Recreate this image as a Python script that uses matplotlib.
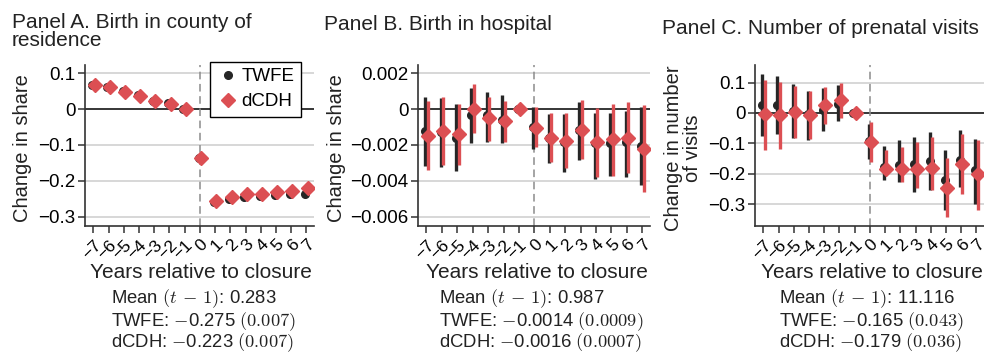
import matplotlib
matplotlib.use('Agg')
import matplotlib.pyplot as plt
import numpy as np

plt.rcParams['font.family'] = ['Liberation Sans', 'DejaVu Sans']
plt.rcParams['mathtext.fontset'] = 'cm'

W, H = 984, 353
RED = '#dc4f53'
BLACK = '#262626'

event_time = list(range(-7, 8))

# Panel A: birth in county of residence
a_twfe = [0.066, 0.062, 0.050, 0.038, 0.022, 0.016, 0.0, -0.137,
          -0.260, -0.250, -0.245, -0.243, -0.240, -0.237, -0.236]
a_twfe_lo = [0.062, 0.058, 0.046, 0.034, 0.018, 0.012, 0.0, -0.141,
             -0.264, -0.254, -0.249, -0.247, -0.244, -0.241, -0.240]
a_twfe_hi = [0.070, 0.066, 0.054, 0.042, 0.026, 0.020, 0.0, -0.133,
             -0.256, -0.246, -0.241, -0.239, -0.236, -0.233, -0.232]
a_dcdh = [0.066, 0.061, 0.049, 0.037, 0.022, 0.015, 0.0, -0.136,
          -0.255, -0.245, -0.236, -0.236, -0.232, -0.227, -0.221]
a_dcdh_lo = [0.062, 0.057, 0.045, 0.033, 0.018, 0.011, 0.0, -0.140,
             -0.259, -0.249, -0.240, -0.240, -0.236, -0.231, -0.225]
a_dcdh_hi = [0.070, 0.065, 0.053, 0.041, 0.026, 0.019, 0.0, -0.132,
             -0.251, -0.241, -0.232, -0.232, -0.228, -0.223, -0.217]

# Panel B: birth in hospital
b_twfe = [-0.00122, -0.00130, -0.00163, -0.00033, -0.00033, -0.00061, 0.0, -0.00102,
          -0.00163, -0.00181, -0.00117, -0.00191, -0.00187, -0.00185, -0.00204]
b_twfe_lo = [-0.00317, -0.00324, -0.00348, -0.00191, -0.00181, -0.00187, 0.0, -0.00222,
             -0.00302, -0.00352, -0.00283, -0.00389, -0.00372, -0.00381, -0.00422]
b_twfe_hi = [0.00068, 0.00060, 0.00026, 0.00118, 0.00098, 0.00078, 0.0, 0.00010,
             -0.00028, -0.00028, 0.00041, -0.00024, -0.00024, -0.00010, 0.00010]
b_dcdh = [-0.00148, -0.00122, -0.00139, 0.00000, -0.00052, -0.00067, 0.0, -0.00107,
          -0.00159, -0.00176, -0.00117, -0.00181, -0.00169, -0.00159, -0.00222]
b_dcdh_lo = [-0.00339, -0.00311, -0.00311, -0.00135, -0.00176, -0.00181, 0.0, -0.00209,
             -0.00293, -0.00330, -0.00280, -0.00376, -0.00372, -0.00357, -0.00465]
b_dcdh_hi = [0.00046, 0.00065, 0.00031, 0.00139, 0.00065, 0.00046, 0.0, 0.00010,
             -0.00024, -0.00020, 0.00050, 0.00004, 0.00031, 0.00037, 0.00022]

# Panel C: number of prenatal visits
c_twfe = [0.027, 0.027, 0.005, -0.002, 0.011, 0.031, 0.0, -0.092,
          -0.178, -0.170, -0.169, -0.158, -0.220, -0.156, -0.189]
c_twfe_lo = [-0.077, -0.070, -0.081, -0.090, -0.060, -0.027, 0.0, -0.151,
             -0.220, -0.227, -0.260, -0.255, -0.318, -0.242, -0.299]
c_twfe_hi = [0.127, 0.122, 0.097, 0.073, 0.082, 0.091, 0.0, -0.035,
             -0.107, -0.088, -0.079, -0.063, -0.123, -0.055, -0.085]
c_dcdh = [-0.004, -0.005, 0.003, -0.005, 0.025, 0.042, 0.0, -0.096,
          -0.184, -0.186, -0.184, -0.180, -0.246, -0.167, -0.202]
c_dcdh_lo = [-0.121, -0.118, -0.081, -0.085, -0.037, -0.015, 0.0, -0.162,
             -0.202, -0.227, -0.246, -0.255, -0.341, -0.266, -0.319]
c_dcdh_hi = [0.110, 0.102, 0.088, 0.073, 0.086, 0.099, 0.0, -0.030,
             -0.121, -0.112, -0.096, -0.079, -0.147, -0.068, -0.088]

titles = ['Panel A. Birth in county of\nresidence',
          'Panel B. Birth in hospital',
          'Panel C. Number of prenatal visits']
ylabels = ['Change in share', 'Change in share', 'Change in number\nof visits']
yticks = [[0.1, 0, -0.1, -0.2, -0.3],
          [0.002, 0, -0.002, -0.004, -0.006],
          [0.1, 0, -0.1, -0.2, -0.3]]
yticklabels = [['0.1', '0', '\u22120.1', '\u22120.2', '\u22120.3'],
               ['0.002', '0', '\u22120.002', '\u22120.004', '\u22120.006'],
               ['0.1', '0', '\u22120.1', '\u22120.2', '\u22120.3']]
ylims = [(-0.326, 0.123), (-0.00652, 0.00246), (-0.372, 0.158)]
stats = [['Mean $(t\\,-\\,1)$: 0.283', 'TWFE: $-$0.275 $(0.007)$', 'dCDH: $-$0.223 $(0.007)$'],
         ['Mean $(t\\,-\\,1)$: 0.987', 'TWFE: $-$0.0014 $(0.0009)$', 'dCDH: $-$0.0016 $(0.0007)$'],
         ['Mean $(t\\,-\\,1)$: 11.116', 'TWFE: $-$0.165 $(0.043)$', 'dCDH: $-$0.179 $(0.036)$']]

panels = [
    (a_twfe, a_twfe_lo, a_twfe_hi, a_dcdh, a_dcdh_lo, a_dcdh_hi),
    (b_twfe, b_twfe_lo, b_twfe_hi, b_dcdh, b_dcdh_lo, b_dcdh_hi),
    (c_twfe, c_twfe_lo, c_twfe_hi, c_dcdh, c_dcdh_lo, c_dcdh_hi),
]

# axes boxes in pixels: left, top, right, bottom
boxes = [(85, 65, 314, 226), (418, 65, 650, 226), (755, 65, 984, 226)]
title_pos = [(12, 31.5), (324, 25), (662, 28)]
ylabel_x = [23, 336, 683]
xlabel_x = [201, 537, 872]
stats_x = [111, 439, 779]
stats_y = [299, 322, 343]


def fx(x):
    return x / W


def fy(y):
    return 1 - y / H


fig = plt.figure(figsize=(W / 100, H / 100), dpi=100)

x = np.array(event_time)
for i, (tw, tw_lo, tw_hi, dc, dc_lo, dc_hi) in enumerate(panels):
    l, t, r, b = boxes[i]
    ax = fig.add_axes([fx(l), fy(b), (r - l) / W, (b - t) / H])

    ax.vlines(x - 0.08, tw_lo, tw_hi, color=BLACK, lw=2.4, zorder=3)
    ax.plot(x - 0.08, tw, 'o', color=BLACK, ms=5.5, zorder=4, label='TWFE')
    ax.vlines(x + 0.08, dc_lo, dc_hi, color=RED, lw=2.4, zorder=5)
    ax.plot(x + 0.08, dc, 'D', color=RED, ms=7, zorder=6, label='dCDH')

    ax.axhline(0, color='black', lw=1.1, zorder=2)
    ax.axvline(0, color='#8c8c8c', lw=1.1, ls=(0, (5, 3)), zorder=2)

    ax.set_xlim(-7.55, 7.5)
    ax.set_ylim(*ylims[i])
    ax.set_yticks(yticks[i])
    ax.set_yticklabels(yticklabels[i])
    ax.set_xticks(event_time)
    ax.set_xticklabels([str(v).replace('-', '\u2212') for v in event_time],
                       rotation=45, ha='right', va='top', rotation_mode='anchor')
    ax.tick_params(axis='both', labelsize=13.5, length=5, width=1.1, color='#333333', pad=2)
    ax.tick_params(axis='x', labelsize=12.5, pad=3)

    for yt in yticks[i]:
        if yt != 0:
            ax.axhline(yt, color='#d4d4d4', lw=1.3, zorder=1)

    for s in ['top', 'right']:
        ax.spines[s].set_visible(False)
    for s in ['left', 'bottom']:
        ax.spines[s].set_linewidth(1.2)
        ax.spines[s].set_color('#333333')

    if i == 0:
        ax.legend(loc='upper right', bbox_to_anchor=(0.943, 1.02), fontsize=13.5,
                  frameon=True, fancybox=False, edgecolor='black', framealpha=1,
                  handletextpad=0.1, handlelength=1.2, borderpad=0.35,
                  labelspacing=0.4, borderaxespad=0)

    tx, ty = title_pos[i]
    fig.text(fx(tx), fy(ty), titles[i], fontsize=15, ha='left', va='center',
             color='#222222', linespacing=1.0)
    fig.text(fx(ylabel_x[i]), fy(148), ylabels[i], fontsize=14.5, rotation=90,
             ha='center', va='center', color='#222222', linespacing=1.0)
    fig.text(fx(xlabel_x[i]), fy(272), 'Years relative to closure', fontsize=15,
             ha='center', va='center', color='#222222')
    for k, line in enumerate(stats[i]):
        fig.text(fx(stats_x[i]), fy(stats_y[k]), line, fontsize=13.3,
                 ha='left', va='center', color='#222222')

fig.savefig('out.png', dpi=100)
